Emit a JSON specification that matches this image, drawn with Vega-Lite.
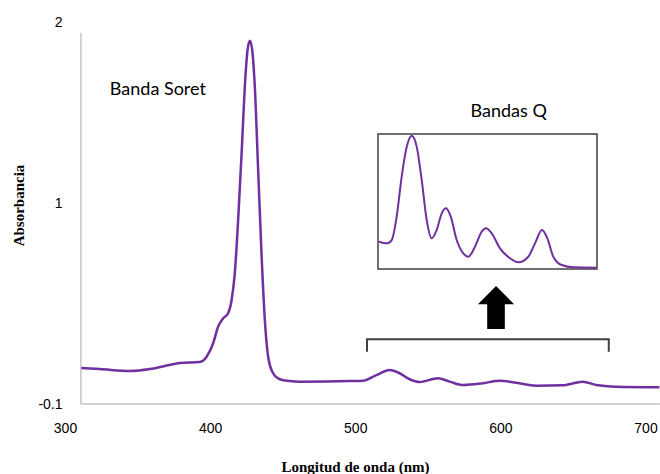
{
  "$schema": "https://vega.github.io/schema/vega-lite/v6.json",
  "width": 595,
  "height": 382,
  "autosize": {"type": "none"},
  "padding": {"left": 65, "top": 22, "right": 0, "bottom": 70},
  "background": "white",
  "config": {"view": {"stroke": null}, "axis": {"grid": false}},
  "datasets": {
    "spectrum": [
      {"wl": 311.0, "abs": 0.098}, {"wl": 324.1, "abs": 0.092}, {"wl": 344.8, "abs": 0.081},
      {"wl": 358.5, "abs": 0.092}, {"wl": 368.8, "abs": 0.109}, {"wl": 379.2, "abs": 0.125},
      {"wl": 392.9, "abs": 0.131}, {"wl": 397.6, "abs": 0.160}, {"wl": 402.1, "abs": 0.234},
      {"wl": 405.5, "abs": 0.325}, {"wl": 409.0, "abs": 0.371}, {"wl": 412.4, "abs": 0.399},
      {"wl": 414.8, "abs": 0.472}, {"wl": 417.0, "abs": 0.618}, {"wl": 419.3, "abs": 0.911},
      {"wl": 421.7, "abs": 1.278}, {"wl": 423.9, "abs": 1.644}, {"wl": 425.8, "abs": 1.846},
      {"wl": 427.4, "abs": 1.897}, {"wl": 429.0, "abs": 1.846}, {"wl": 430.8, "abs": 1.644},
      {"wl": 433.1, "abs": 1.186}, {"wl": 435.4, "abs": 0.728}, {"wl": 437.7, "abs": 0.362},
      {"wl": 440.0, "abs": 0.160}, {"wl": 443.4, "abs": 0.069}, {"wl": 448.0, "abs": 0.036},
      {"wl": 454.9, "abs": 0.026}, {"wl": 461.8, "abs": 0.023}, {"wl": 480.0, "abs": 0.024},
      {"wl": 496.2, "abs": 0.026}, {"wl": 505.4, "abs": 0.028}, {"wl": 514.6, "abs": 0.059},
      {"wl": 523.8, "abs": 0.087}, {"wl": 530.6, "abs": 0.069}, {"wl": 537.5, "abs": 0.036},
      {"wl": 544.4, "abs": 0.021}, {"wl": 557.0, "abs": 0.041}, {"wl": 565.1, "abs": 0.023},
      {"wl": 574.2, "abs": 0.004}, {"wl": 588.0, "abs": 0.014}, {"wl": 599.5, "abs": 0.028},
      {"wl": 611.0, "abs": 0.017}, {"wl": 624.7, "abs": 0.001}, {"wl": 643.1, "abs": 0.003},
      {"wl": 656.8, "abs": 0.023}, {"wl": 666.0, "abs": 0.004}, {"wl": 679.8, "abs": -0.005},
      {"wl": 709.6, "abs": -0.008}
    ],
    "inset": [
      {"wl": 490.0, "abs": 0.0170}, {"wl": 497.9, "abs": 0.0159}, {"wl": 503.0, "abs": 0.0181},
      {"wl": 508.1, "abs": 0.0335}, {"wl": 513.2, "abs": 0.0598}, {"wl": 518.4, "abs": 0.0796},
      {"wl": 523.5, "abs": 0.0868}, {"wl": 528.6, "abs": 0.0796}, {"wl": 533.7, "abs": 0.0577},
      {"wl": 538.8, "abs": 0.0313}, {"wl": 543.9, "abs": 0.0192}, {"wl": 549.0, "abs": 0.0247},
      {"wl": 554.2, "abs": 0.0357}, {"wl": 558.6, "abs": 0.0390}, {"wl": 563.4, "abs": 0.0335},
      {"wl": 569.5, "abs": 0.0181}, {"wl": 576.2, "abs": 0.0093}, {"wl": 581.4, "abs": 0.0071},
      {"wl": 588.2, "abs": 0.0137}, {"wl": 595.1, "abs": 0.0236}, {"wl": 599.5, "abs": 0.0258},
      {"wl": 605.3, "abs": 0.0225}, {"wl": 613.8, "abs": 0.0126}, {"wl": 624.0, "abs": 0.0061},
      {"wl": 632.5, "abs": 0.0034}, {"wl": 642.7, "abs": 0.0071}, {"wl": 649.6, "abs": 0.0159},
      {"wl": 656.7, "abs": 0.0247}, {"wl": 662.2, "abs": 0.0192}, {"wl": 668.3, "abs": 0.0071},
      {"wl": 676.9, "abs": 0.0016}, {"wl": 688.8, "abs": 0.0001}, {"wl": 712.0, "abs": -0.0001}
    ],
    "axislines": [
      {"wl": 311, "wl2": 710, "abs": -0.1, "abs2": -0.1},
      {"wl": 311, "wl2": 311, "abs": -0.1, "abs2": 1.94}
    ],
    "labels": [
      {"wl": 364.0, "abs": 1.626, "text": "Banda Soret"},
      {"wl": 605.7, "abs": 1.505, "text": "Bandas Q"}
    ],
    "bracket": [
      {"wl": 508.1, "abs": 0.187, "o": 0},
      {"wl": 508.1, "abs": 0.256, "o": 1},
      {"wl": 674.7, "abs": 0.256, "o": 2},
      {"wl": 674.7, "abs": 0.187, "o": 3}
    ],
    "arrow": [{"wl": 597.0, "abs": 0.43}],
    "box": [{"wl": 489, "wl2": 713, "abs": -0.001, "abs2": 0.088}]
  },
  "layer": [
    {
      "layer": [
        {
          "data": {"name": "spectrum"},
          "mark": {"type": "line", "color": "#7030A0", "strokeWidth": 2.5, "interpolate": "monotone"},
          "encoding": {
            "x": {
              "field": "wl", "type": "quantitative",
              "scale": {"domain": [300, 710], "nice": false, "zero": false},
              "axis": {
                "title": "Longitud de onda (nm)",
                "values": [300, 400, 500, 600, 700],
                "domain": false, "ticks": false, "tickSize": 0,
                "labelPadding": 17, "labelFlush": false,
                "labelFont": "Liberation Sans", "labelFontSize": 14, "labelColor": "#000000",
                "titleFont": "Liberation Serif", "titleFontSize": 15, "titleFontWeight": "bold",
                "titleColor": "#000000", "titleX": 290, "titleY": 62, "titleBaseline": "middle"
              }
            },
            "y": {
              "field": "abs", "type": "quantitative",
              "scale": {"domain": [-0.1, 2], "nice": false, "zero": false},
              "axis": {
                "title": "Absorbancia",
                "values": [-0.1, 1, 2],
                "labelExpr": "datum.value < 0 ? '-0.1' : toString(datum.value)",
                "domain": false, "ticks": false, "tickSize": 0,
                "labelPadding": 3, "labelFlush": false,
                "labelFont": "Liberation Sans", "labelFontSize": 14, "labelColor": "#000000",
                "titleFont": "Liberation Serif", "titleFontSize": 15, "titleFontWeight": "bold",
                "titleColor": "#000000", "titleX": -47, "titleY": 183, "titleAlign": "center", "titleBaseline": "middle", "titleAngle": -90
              }
            }
          }
        },
        {
          "data": {"name": "axislines"},
          "mark": {"type": "rule", "color": "#A6A6A6", "strokeWidth": 1},
          "encoding": {
            "x": {"field": "wl", "type": "quantitative"},
            "x2": {"field": "wl2"},
            "y": {"field": "abs", "type": "quantitative"},
            "y2": {"field": "abs2"}
          }
        },
        {
          "data": {"name": "labels"},
          "mark": {"type": "text", "font": "Lato", "fontSize": 18, "color": "#000000", "baseline": "middle", "align": "center"},
          "encoding": {
            "x": {"field": "wl", "type": "quantitative"},
            "y": {"field": "abs", "type": "quantitative"},
            "text": {"field": "text"}
          }
        },
        {
          "data": {"name": "bracket"},
          "mark": {"type": "line", "color": "#404040", "strokeWidth": 2, "strokeJoin": "miter"},
          "encoding": {
            "x": {"field": "wl", "type": "quantitative"},
            "y": {"field": "abs", "type": "quantitative"},
            "order": {"field": "o"}
          }
        },
        {
          "data": {"name": "arrow"},
          "mark": {"type": "point", "shape": "M0,-1 L0.84,-0.16 L0.41,-0.16 L0.41,1 L-0.41,1 L-0.41,-0.16 L-0.84,-0.16 Z", "size": 1849, "filled": true, "color": "#000000", "opacity": 1, "strokeWidth": 0},
          "encoding": {
            "x": {"field": "wl", "type": "quantitative"},
            "y": {"field": "abs", "type": "quantitative"}
          }
        }
      ]
    },
    {
      "layer": [
        {
          "data": {"name": "box"},
          "mark": {"type": "rect", "fill": "transparent", "stroke": "#404040", "strokeWidth": 1.5},
          "encoding": {
            "x": {"field": "wl", "type": "quantitative", "scale": {"domain": [489, 713], "range": [313, 532], "nice": false, "zero": false}, "axis": null},
            "x2": {"field": "wl2"},
            "y": {"field": "abs", "type": "quantitative", "scale": {"domain": [-0.001, 0.088], "range": [247, 112], "nice": false, "zero": false}, "axis": null},
            "y2": {"field": "abs2"}
          }
        },
        {
          "data": {"name": "inset"},
          "mark": {"type": "line", "color": "#7030A0", "strokeWidth": 2, "interpolate": "monotone"},
          "encoding": {
            "x": {"field": "wl", "type": "quantitative", "axis": null},
            "y": {"field": "abs", "type": "quantitative", "axis": null}
          }
        }
      ]
    }
  ],
  "resolve": {"scale": {"x": "independent", "y": "independent"}}
}
